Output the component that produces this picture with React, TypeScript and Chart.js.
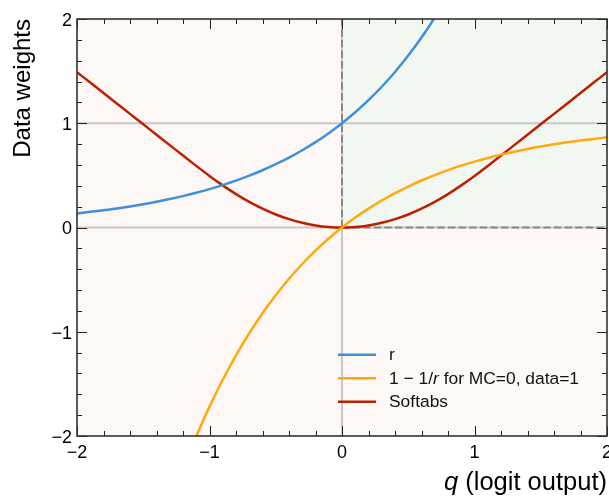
import React, { useEffect, useRef } from "react";
import { Chart, registerables } from "chart.js";

Chart.register(...registerables);

// ---- data ----
const Q = [
  -2.0, -1.9, -1.8, -1.7, -1.6, -1.5, -1.4, -1.3, -1.2, -1.1,
  -1.0, -0.9, -0.8, -0.7, -0.6, -0.5, -0.4, -0.3, -0.2, -0.1,
  0.0, 0.1, 0.2, 0.3, 0.4, 0.5, 0.6, 0.7, 0.8, 0.9,
  1.0, 1.1, 1.2, 1.3, 1.4, 1.5, 1.6, 1.7, 1.8, 1.9, 2.0,
];

const R_VALUES = [
  0.135, 0.15, 0.165, 0.183, 0.202, 0.223, 0.247, 0.273, 0.301, 0.333,
  0.368, 0.407, 0.449, 0.497, 0.549, 0.607, 0.67, 0.741, 0.819, 0.905,
  1.0, 1.105, 1.221, 1.35, 1.492, 1.649, 1.822, 2.014, 2.226, null,
  null, null, null, null, null, null, null, null, null, null, null,
];

const ONE_MINUS_INV_R = [
  null, null, null, null, null, null, null, null, -2.32, -2.004,
  -1.718, -1.46, -1.226, -1.014, -0.822, -0.649, -0.492, -0.35, -0.221, -0.105,
  0.0, 0.095, 0.181, 0.259, 0.33, 0.393, 0.451, 0.503, 0.551, 0.593,
  0.632, 0.667, 0.699, 0.727, 0.753, 0.777, 0.798, 0.817, 0.835, 0.85, 0.865,
];

const SOFTABS = [
  1.49, 1.39, 1.29, 1.19, 1.09, 0.99, 0.89, 0.79, 0.69, 0.591,
  0.495, 0.404, 0.32, 0.245, 0.18, 0.125, 0.08, 0.045, 0.02, 0.005,
  0.0, 0.005, 0.02, 0.045, 0.08, 0.125, 0.18, 0.245, 0.32, 0.404,
  0.495, 0.591, 0.69, 0.79, 0.89, 0.99, 1.09, 1.19, 1.29, 1.39, 1.49,
];

// labels; text inside {} is drawn in italics
const SERIES_LABELS = ["r", "1 \u2212 1/{r} for MC=0, data=1", "Softabs"];
const X_TITLE = "{q} (logit output)";
const Y_TITLE = "Data weights";
const X_RANGE = [-2, 2];
const Y_RANGE = [-2, 2];

// ---- styles ----
const COLORS = ["#3f90da", "#ffa90e", "#bd1f01"];
const FONT = "'Liberation Sans', Arial, Helvetica, sans-serif";
const PINK = "#fdf7f6";
const GREEN = "#f2f8f1";

const plain = (s: string) => s.replace(/[{}]/g, "");

function drawRich(ctx: CanvasRenderingContext2D, text: string, x: number, y: number, size: number, alignRight: boolean) {
  const parts = text.split(/[{}]/);
  const fonts = parts.map((_, i) => (i % 2 === 1 ? `italic ${size}px ${FONT}` : `${size}px ${FONT}`));
  let total = 0;
  const widths = parts.map((p, i) => {
    ctx.font = fonts[i];
    const w = ctx.measureText(p).width;
    total += w;
    return w;
  });
  let cx = alignRight ? x - total : x;
  ctx.textAlign = "left";
  parts.forEach((p, i) => {
    ctx.font = fonts[i];
    ctx.fillText(p, cx, y);
    cx += widths[i];
  });
}

const decorPlugin = {
  id: "decor",
  beforeDatasetsDraw(chart: any) {
    const { ctx, chartArea: a, scales } = chart;
    const x = scales.x, y = scales.y;
    const x0 = x.getPixelForValue(0);
    const y0 = y.getPixelForValue(0);
    const y1 = y.getPixelForValue(1);
    ctx.save();
    ctx.fillStyle = PINK;
    ctx.fillRect(a.left, a.top, a.right - a.left, a.bottom - a.top);
    ctx.fillStyle = GREEN;
    ctx.fillRect(x0, a.top, a.right - x0, y0 - a.top);
    const line = (ax: number, ay: number, bx: number, by: number) => {
      ctx.beginPath();
      ctx.moveTo(ax, ay);
      ctx.lineTo(bx, by);
      ctx.stroke();
    };
    ctx.strokeStyle = "#c8c8c8";
    ctx.lineWidth = 2;
    line(a.left, y0, a.right, y0);
    line(a.left, y1, a.right, y1);
    line(x0, a.top, x0, a.bottom);
    ctx.strokeStyle = "#888888";
    ctx.setLineDash([7.4, 3.2]);
    line(x0, y0, x0, a.top);
    line(x0, y0, a.right, y0);
    ctx.restore();
  },
  afterDatasetsDraw(chart: any) {
    const { ctx, chartArea: a, scales } = chart;
    const x = scales.x, y = scales.y;
    ctx.save();
    // inward ticks on all four sides
    ctx.strokeStyle = "#222";
    ctx.lineWidth = 1;
    const MAJ = 10, MIN = 5;
    for (let i = X_RANGE[0] * 5; i <= X_RANGE[1] * 5; i++) {
      const v = i / 5;
      const len = i % 5 === 0 ? MAJ : MIN;
      const px = Math.round(x.getPixelForValue(v)) + 0.5;
      ctx.beginPath();
      ctx.moveTo(px, a.bottom);
      ctx.lineTo(px, a.bottom - len);
      ctx.moveTo(px, a.top);
      ctx.lineTo(px, a.top + len);
      ctx.stroke();
    }
    for (let i = Y_RANGE[0] * 5; i <= Y_RANGE[1] * 5; i++) {
      const v = i / 5;
      const len = i % 5 === 0 ? MAJ : MIN;
      const py = Math.round(y.getPixelForValue(v)) + 0.5;
      ctx.beginPath();
      ctx.moveTo(a.left, py);
      ctx.lineTo(a.left + len, py);
      ctx.moveTo(a.right, py);
      ctx.lineTo(a.right - len, py);
      ctx.stroke();
    }
    // frame
    ctx.strokeStyle = "#333";
    ctx.lineWidth = 1.6;
    ctx.strokeRect(a.left, a.top, a.right - a.left, a.bottom - a.top);

    // legend
    const lx = x.getPixelForValue(-0.03);
    const ly0 = y.getPixelForValue(-1.22);
    const step = 23.5;
    chart.data.datasets.forEach((ds: any, i: number) => {
      const yy = ly0 + i * step;
      ctx.strokeStyle = ds.borderColor;
      ctx.lineWidth = 2.5;
      ctx.beginPath();
      ctx.moveTo(lx, yy);
      ctx.lineTo(lx + 38, yy);
      ctx.stroke();
      ctx.fillStyle = "#111";
      ctx.textBaseline = "middle";
      drawRich(ctx, SERIES_LABELS[i], lx + 51, yy + 1, 17.4, false);
    });

    // axis titles
    ctx.fillStyle = "#000";
    ctx.textBaseline = "alphabetic";
    drawRich(ctx, X_TITLE, a.right, 490, 25.5, true);
    ctx.translate(30, a.top);
    ctx.rotate(-Math.PI / 2);
    drawRich(ctx, Y_TITLE, 0, 0, 24, true);
    ctx.restore();
  },
};

const fmt = (v: any) => String(v).replace("-", "\u2212");

export default function App() {
  const ref = useRef<HTMLCanvasElement>(null);
  useEffect(() => {
    const series = [R_VALUES, ONE_MINUS_INV_R, SOFTABS];
    const chart = new Chart(ref.current as HTMLCanvasElement, {
      type: "scatter",
      data: {
        datasets: series.map((vals, i) => ({
          label: plain(SERIES_LABELS[i]),
          data: Q.map((q, j) => ({ x: q, y: vals[j] })).filter((p) => p.y !== null) as any,
          showLine: true,
          borderColor: COLORS[i],
          backgroundColor: COLORS[i],
          borderWidth: 2.5,
          pointRadius: 0,
          cubicInterpolationMode: "monotone",
        })),
      },
      plugins: [decorPlugin],
      options: {
        responsive: false,
        animation: false,
        events: [],
        layout: { padding: { top: 19, right: 2, left: 0, bottom: 0 } },
        plugins: { legend: { display: false }, tooltip: { enabled: false } },
        scales: {
          x: {
            type: "linear",
            min: X_RANGE[0],
            max: X_RANGE[1],
            grid: { display: false, drawTicks: false },
            border: { display: false },
            ticks: {
              stepSize: 1,
              autoSkip: false,
              maxRotation: 0,
              padding: 6,
              color: "#000",
              font: { family: FONT, size: 18 },
              callback: (v: any) => fmt(v),
            },
            afterFit: (s: any) => {
              s.height = 61;
              s.paddingLeft = 0;
              s.paddingRight = 0;
            },
          },
          y: {
            type: "linear",
            min: Y_RANGE[0],
            max: Y_RANGE[1],
            grid: { display: false, drawTicks: false },
            border: { display: false },
            ticks: {
              stepSize: 1,
              autoSkip: false,
              padding: 5,
              labelOffset: 2,
              color: "#000",
              font: { family: FONT, size: 18 },
              callback: (v: any) => fmt(v),
            },
            afterFit: (s: any) => {
              s.width = 77;
              s.paddingTop = 0;
              s.paddingBottom = 0;
            },
          },
        },
      },
    });
    return () => chart.destroy();
  }, []);
  return (
    <div style={{ position: "fixed", left: 0, top: 0, width: 609, height: 497, background: "#fff" }}>
      <canvas ref={ref} width={609} height={497} style={{ display: "block", width: 609, height: 497 }} />
    </div>
  );
}
